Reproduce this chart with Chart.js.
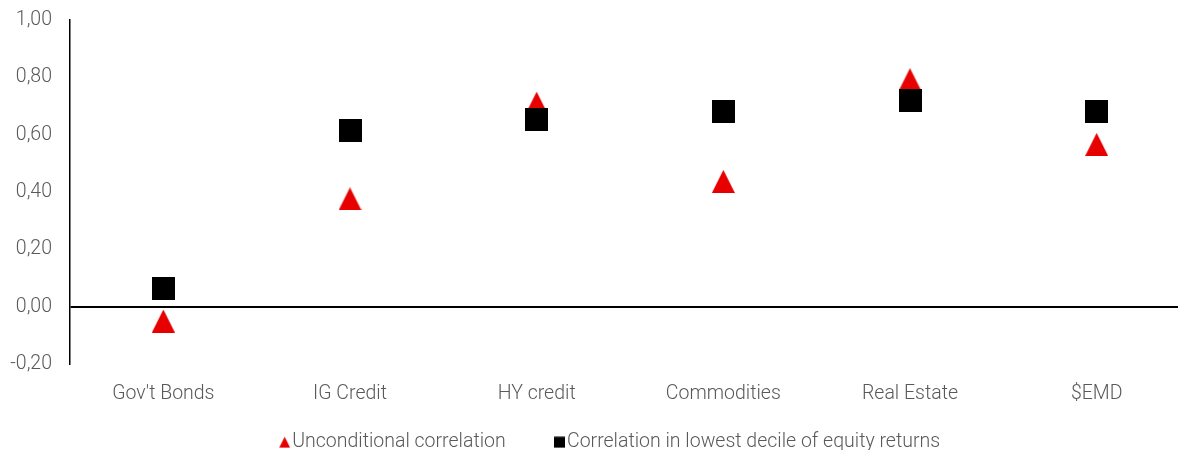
<!DOCTYPE html>
<html>
<head>
<meta charset="utf-8">
<script src="https://cdn.jsdelivr.net/npm/chart.js@4.4.1/dist/chart.umd.min.js"></script>
<style>
  html, body { margin: 0; padding: 0; background: #ffffff; overflow: hidden; }
  #wrap { position: relative; margin-left: -9px; width: 1199px; height: 462px; }
</style>
</head>
<body>
<div id="wrap"><canvas id="chart"></canvas></div>
<script>
// Asset classes on the category axis
const categories = ["Gov't Bonds", "IG Credit", "HY credit", "Commodities", "Real Estate", "$EMD"];

// Correlation of each asset class with equities
const unconditional = [-0.05, 0.376, 0.71, 0.437, 0.792, 0.566];
const lowestDecile = [0.063, 0.615, 0.652, 0.68, 0.719, 0.68];

const seriesNames = ["Unconditional correlation", "Correlation in lowest decile of equity returns"];
const yTickLabels = ["-0,20", "0,00", "0,20", "0,40", "0,60", "0,80", "1,00"];

const RED = "#e60000";
const BLACK = "#000000";
const TEXT = "#595959";
const FONT = { family: "Roboto", size: 19.5, weight: "300" };

// Marker glyphs drawn onto small canvases, used as point styles.
// boxW/boxH size the canvas; the glyph (w x h) sits against its right edge.
function glyph(shape, color, w, h, boxW, boxH) {
  const c = document.createElement("canvas");
  c.width = boxW;
  c.height = boxH;
  const g = c.getContext("2d");
  g.fillStyle = color;
  const x0 = boxW - w;
  const y0 = (boxH - h) / 2;
  if (shape === "triangle") {
    g.beginPath();
    g.moveTo(x0 + w / 2, y0);
    g.lineTo(x0 + w, y0 + h);
    g.lineTo(x0, y0 + h);
    g.closePath();
    g.fill();
  } else {
    g.fillRect(x0, y0, w, h);
  }
  return c;
}

const triPoint = glyph("triangle", RED, 23, 23, 23, 23);
const sqPoint = glyph("square", BLACK, 23, 23, 23, 23);

// Legend glyphs: the box is 41.5 wide, the canvas reaches past it on both sides
const LEGEND_BOX = 41.5;
const triLegend = glyph("triangle", RED, 11, 11, 57, 12);
const sqLegend = glyph("square", BLACK, 11, 11, 57, 12);

new Chart(document.getElementById("chart"), {
  type: "line",
  data: {
    labels: categories,
    datasets: [
      {
        label: seriesNames[0],
        data: unconditional,
        showLine: false,
        pointStyle: triPoint,
        pointRadius: 12,
        backgroundColor: RED,
        borderColor: RED,
        order: 1
      },
      {
        label: seriesNames[1],
        data: lowestDecile,
        showLine: false,
        pointStyle: sqPoint,
        pointRadius: 12,
        backgroundColor: BLACK,
        borderColor: BLACK,
        order: 0
      }
    ]
  },
  options: {
    responsive: true,
    maintainAspectRatio: false,
    animation: false,
    devicePixelRatio: 1,
    layout: { autoPadding: false, padding: { top: 20, left: 0, right: 0, bottom: 0 } },
    plugins: {
      tooltip: { enabled: false },
      legend: {
        position: "bottom",
        labels: {
          usePointStyle: true,
          pointStyleWidth: LEGEND_BOX,
          padding: 10,
          color: TEXT,
          font: FONT,
          generateLabels: (chart) => chart.data.datasets.map((ds, i) => ({
            text: ds.label,
            pointStyle: i === 0 ? triLegend : sqLegend,
            fillStyle: ds.backgroundColor,
            strokeStyle: ds.borderColor,
            lineWidth: 0,
            hidden: false,
            datasetIndex: i,
            fontColor: TEXT
          }))
        }
      }
    },
    scales: {
      x: {
        offset: true,
        grid: { display: false, drawTicks: false },
        border: { display: false },
        ticks: { color: TEXT, font: FONT, padding: 18, maxRotation: 0, autoSkip: false },
        afterFit: (scale) => { scale.height = 58.5; }
      },
      y: {
        min: -0.2,
        max: 1.0,
        ticks: {
          stepSize: 0.2,
          color: TEXT,
          font: FONT,
          padding: 18,
          callback: (value, index) => yTickLabels[index]
        },
        grid: {
          drawTicks: false,
          lineWidth: 2,
          color: (ctx) => (ctx.tick && Math.abs(ctx.tick.value) < 1e-9 ? BLACK : "rgba(0,0,0,0)")
        },
        border: { display: true, color: BLACK, width: 1.5 },
        afterFit: (scale) => {
          scale.width = 79;
          scale.paddingTop = 0;
          scale.paddingBottom = 0;
        }
      }
    }
  }
});
</script>
</body>
</html>
